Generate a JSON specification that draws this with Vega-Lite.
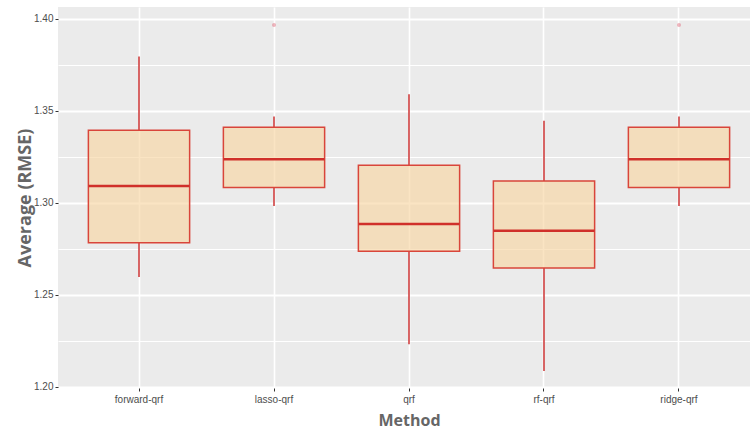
{
  "$schema": "https://vega.github.io/schema/vega-lite/v6.json",
  "width": 692,
  "height": 381,
  "autosize": "none",
  "padding": {"left": 58, "top": 7, "right": 0, "bottom": 46},
  "background": "white",
  "config": {
    "view": {"fill": "#EBEBEB", "stroke": null},
    "axis": {"labelFont": "Liberation Sans", "titleFont": "Open Sans", "domain": false}
  },
  "data": {
    "values": [
      {"method": "forward-qrf", "lower": 1.2597, "q1": 1.2783, "median": 1.3092, "q3": 1.3395, "upper": 1.3796, "outlier": null},
      {"method": "lasso-qrf", "lower": 1.2983, "q1": 1.3084, "median": 1.3237, "q3": 1.3411, "upper": 1.3469, "outlier": 1.3967},
      {"method": "qrf", "lower": 1.2231, "q1": 1.2737, "median": 1.2885, "q3": 1.3204, "upper": 1.3591, "outlier": null},
      {"method": "rf-qrf", "lower": 1.2085, "q1": 1.2646, "median": 1.2848, "q3": 1.3119, "upper": 1.3447, "outlier": null},
      {"method": "ridge-qrf", "lower": 1.2983, "q1": 1.3084, "median": 1.3237, "q3": 1.3411, "upper": 1.3469, "outlier": 1.3967}
    ]
  },
  "encoding": {
    "x": {
      "field": "method", "type": "nominal", "sort": null,
      "scale": {"type": "band", "paddingInner": 0, "paddingOuter": 0.063, "align": 0.794},
      "axis": {
        "title": "Method", "titleFontSize": 16, "titleFontWeight": "bold", "titleColor": "#666666",
        "titleX": 351,
        "labelAngle": 0, "labelFontSize": 10, "labelColor": "#4d4d4d", "labelPadding": 3,
        "tickColor": "#333333", "tickSize": 3, "bandPosition": 0.5,
        "grid": true, "gridColor": "white", "gridWidth": 1.6, "titlePadding": 8
      }
    }
  },
  "layer": [
    {
      "mark": {"type": "rule", "color": "#cc3333", "strokeWidth": 1.5},
      "encoding": {
        "y": {
          "field": "q3", "type": "quantitative", "title": "Average (RMSE)",
          "scale": {"domain": [1.1993, 1.4065], "nice": false, "zero": false},
          "axis": {
            "values": [1.2, 1.225, 1.25, 1.275, 1.3, 1.325, 1.35, 1.375, 1.4],
            "labelExpr": "round(datum.value*1000) % 50 === 0 ? format(datum.value, '.2f') : ''",
            "labelFontSize": 10, "labelColor": "#4d4d4d", "labelPadding": 2,
            "tickColor": "#333333", "tickSize": 3,
            "tickOpacity": {"condition": {"test": "round(datum.value*1000) % 50 === 0", "value": 1}, "value": 0},
            "grid": true, "gridColor": "white",
            "gridWidth": {"condition": {"test": "round(datum.value*1000) % 50 === 0", "value": 1.8}, "value": 1},
            "title": "Average (RMSE)", "titleFontSize": 18, "titleFontWeight": "bold", "titleColor": "#666666",
            "titlePadding": -1
          }
        },
        "y2": {"field": "upper"}
      }
    },
    {
      "mark": {"type": "rule", "color": "#cc3333", "strokeWidth": 1.5},
      "encoding": {
        "y": {"field": "lower", "type": "quantitative", "title": "Average (RMSE)"},
        "y2": {"field": "q1"}
      }
    },
    {
      "mark": {"type": "bar", "fill": "#f8d5a3", "fillOpacity": 0.65, "stroke": "#d9453a", "strokeWidth": 1.5, "width": {"band": 0.75}},
      "encoding": {
        "y": {"field": "q1", "type": "quantitative", "title": "Average (RMSE)"},
        "y2": {"field": "q3"}
      }
    },
    {
      "mark": {"type": "tick", "color": "#d0302a", "thickness": 2.5, "size": 101, "opacity": 1},
      "encoding": {
        "y": {"field": "median", "type": "quantitative", "title": "Average (RMSE)"}
      }
    },
    {
      "transform": [{"filter": "isValid(datum.outlier)"}],
      "mark": {"type": "point", "filled": true, "color": "#e06070", "opacity": 0.45, "size": 16},
      "encoding": {
        "y": {"field": "outlier", "type": "quantitative", "title": "Average (RMSE)"}
      }
    }
  ]
}
